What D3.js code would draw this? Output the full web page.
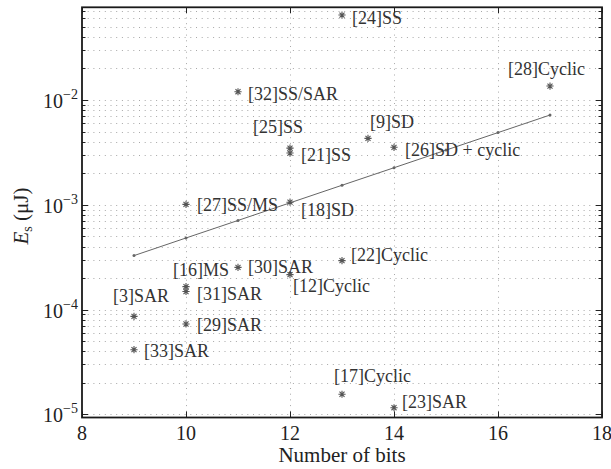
<!DOCTYPE html>
<html>
<head>
<meta charset="utf-8">
<script src="https://cdn.jsdelivr.net/npm/d3@7"></script>
<style>
  body { margin: 0; background: #fff; }
</style>
</head>
<body>
<div id="chart"></div>
<script>
// data
var refs   = ["[24]SS", "[32]SS/SAR", "[25]SS", "[21]SS", "[9]SD", "[26]SD + cyclic", "[28]Cyclic",
              "[27]SS/MS", "[18]SD", "[16]MS", "[31]SAR", "[30]SAR", "[12]Cyclic", "[22]Cyclic",
              "[3]SAR", "[29]SAR", "[33]SAR", "[17]Cyclic", "[23]SAR"];
var bits   = [13, 11, 12, 12, 13.5, 14, 17, 10, 12, 10, 10, 11, 12, 13, 9, 10, 9, 13, 14];
var energy = [0.0647, 0.0120, 0.00348, 0.00312, 0.00431, 0.00354, 0.0136,
              0.00101, 0.00106, 0.000166, 0.000149, 0.000253, 0.000216, 0.000294,
              0.0000863, 0.0000730, 0.0000415, 0.0000156, 0.0000116];

// fitted trend line
var fitBits   = [9, 10, 11, 12, 13, 14, 15, 16, 17];
var fitEnergy = [0.000328, 0.000483, 0.000710, 0.001045, 0.001538, 0.00226, 0.00333, 0.00489, 0.00719];

var xTicks = [8, 10, 12, 14, 16, 18];
var xGrid  = [10, 12, 14, 16];

// label placement relative to each star (px)
var labelDx = [10, 10, -37, 11, 2, 11, -42, 11, 11, -13, 11, 10, 3, 9, -21, 11, 10, -8, 8];
var labelDy = [9, 8, -15, 8, -10, 9, -11, 7, 14, -11, 8, 6, 17, 0, -14, 7, 7, -12, 0];

var W = 611, H = 469,
    serif = "'Liberation Serif', 'Times New Roman', serif";
var x = d3.scaleLinear().domain([8, 18]).range([82, 602]);
var y = d3.scaleLog().domain([0.936e-5, 0.0767]).range([417.5, 7.3]);

var svg = d3.select("#chart").append("svg")
  .attr("width", W).attr("height", H)
  .style("font-family", serif);

var yVals = y.ticks().filter(function(v) { return v >= y.domain()[0] && v <= y.domain()[1]; });
var isDecade = function(v) { return Math.abs(Math.log10(v) - Math.round(Math.log10(v))) < 1e-6; };

//////////////// grid ////////////////
var grid = svg.append("g")
  .attr("stroke", "#a8a8a8").attr("stroke-width", 1)
  .attr("stroke-dasharray", "1,4.7");

grid.selectAll("line.h").data(yVals).enter().append("line")
  .attr("class", "h")
  .attr("x1", x(8)).attr("x2", x(18))
  .attr("y1", function(d) { return Math.round(y(d)) + 0.5; })
  .attr("y2", function(d) { return Math.round(y(d)) + 0.5; });

grid.selectAll("line.v").data(xGrid).enter().append("line")
  .attr("class", "v")
  .attr("y1", y.range()[0]).attr("y2", y.range()[1])
  .attr("x1", function(d) { return Math.round(x(d)) + 0.5; })
  .attr("x2", function(d) { return Math.round(x(d)) + 0.5; });

//////////////// axes (inward ticks) ////////////////
var tickLen = function(v) { return isDecade(v) ? 6 : 3.5; };

var yTickG = svg.append("g").attr("stroke", "#222").attr("stroke-width", 1);
yVals.forEach(function(v) {
  var yy = Math.round(y(v)) + 0.5;
  yTickG.append("line").attr("x1", x(8)).attr("x2", x(8) + tickLen(v)).attr("y1", yy).attr("y2", yy);
  yTickG.append("line").attr("x1", x(18)).attr("x2", x(18) - tickLen(v)).attr("y1", yy).attr("y2", yy);
});

svg.append("g")
  .attr("transform", "translate(0," + y.range()[0] + ")")
  .call(d3.axisBottom(x).tickValues(xTicks).tickSize(-6).tickFormat(""));
svg.append("g")
  .attr("transform", "translate(0," + y.range()[1] + ")")
  .call(d3.axisTop(x).tickValues(xTicks).tickSize(-6).tickFormat(""));
svg.selectAll(".domain").remove();
svg.selectAll(".tick line").attr("stroke", "#222");

// frame
svg.append("rect")
  .attr("x", x(8)).attr("y", y.range()[1])
  .attr("width", x(18) - x(8)).attr("height", y.range()[0] - y.range()[1])
  .attr("fill", "none").attr("stroke", "#1a1a1a").attr("stroke-width", 1.8);

// tick labels
svg.selectAll("text.xt").data(xTicks).enter().append("text")
  .attr("class", "xt")
  .attr("x", function(d) { return x(d); })
  .attr("y", 440)
  .attr("text-anchor", "middle")
  .attr("font-family", serif)
  .attr("font-size", 20).attr("fill", "#222")
  .text(function(d) { return d; });

var yl = svg.selectAll("text.yt").data(yVals.filter(isDecade)).enter().append("text")
  .attr("class", "yt")
  .attr("x", 78)
  .attr("y", function(d) { return y(d) + 8; })
  .attr("text-anchor", "end")
  .attr("font-family", serif)
  .attr("font-size", 20).attr("fill", "#222");
yl.append("tspan").text("10");
yl.append("tspan")
  .attr("dy", -9).attr("font-size", 14)
  .text(function(d) { return "\u2212" + Math.round(-Math.log10(d)); });

// axis titles
svg.append("text")
  .attr("x", x(13)).attr("y", 462)
  .attr("text-anchor", "middle")
  .attr("font-family", serif)
  .attr("font-size", 21).attr("fill", "#222")
  .text("Number of bits");

var yt = svg.append("text")
  .attr("transform", "translate(28,216) rotate(-90)")
  .attr("text-anchor", "middle")
  .attr("font-family", serif)
  .attr("font-size", 21).attr("fill", "#222");
yt.append("tspan").attr("font-style", "italic").text("E");
yt.append("tspan").attr("font-size", 14).attr("dy", 4).text("s");
yt.append("tspan").attr("dy", -4).text(" (\u03bcJ)");

//////////////// trend line ////////////////
var fit = fitBits.map(function(b, i) { return [b, fitEnergy[i]]; });
svg.append("path")
  .datum(fit)
  .attr("fill", "none").attr("stroke", "#666").attr("stroke-width", 1)
  .attr("d", d3.line().x(function(d) { return x(d[0]); }).y(function(d) { return y(d[1]); }));
svg.selectAll("circle.fit").data(fit).enter().append("circle")
  .attr("class", "fit")
  .attr("cx", function(d) { return x(d[0]); })
  .attr("cy", function(d) { return y(d[1]); })
  .attr("r", 1.5).attr("fill", "#666");

//////////////// stars + labels ////////////////
var r = 3.6, q = r * 0.7;
var star = "M" + (-r) + ",0L" + r + ",0M0," + (-r) + "L0," + r +
           "M" + (-q) + "," + (-q) + "L" + q + "," + q + "M" + (-q) + "," + q + "L" + q + "," + (-q);

var pts = refs.map(function(n, i) { return {name: n, b: bits[i], e: energy[i], i: i}; });

svg.selectAll("path.star").data(pts).enter().append("path")
  .attr("class", "star")
  .attr("transform", function(d) { return "translate(" + x(d.b) + "," + y(d.e) + ")"; })
  .attr("d", star)
  .attr("stroke", "#555").attr("stroke-width", 1.1).attr("fill", "none");

svg.selectAll("text.lab").data(pts).enter().append("text")
  .attr("class", "lab")
  .attr("x", function(d) { return x(d.b) + labelDx[d.i]; })
  .attr("y", function(d) { return y(d.e) + labelDy[d.i]; })
  .attr("font-family", serif)
  .attr("font-size", 18).attr("fill", "#333")
  .text(function(d) { return d.name; });
</script>
</body>
</html>
